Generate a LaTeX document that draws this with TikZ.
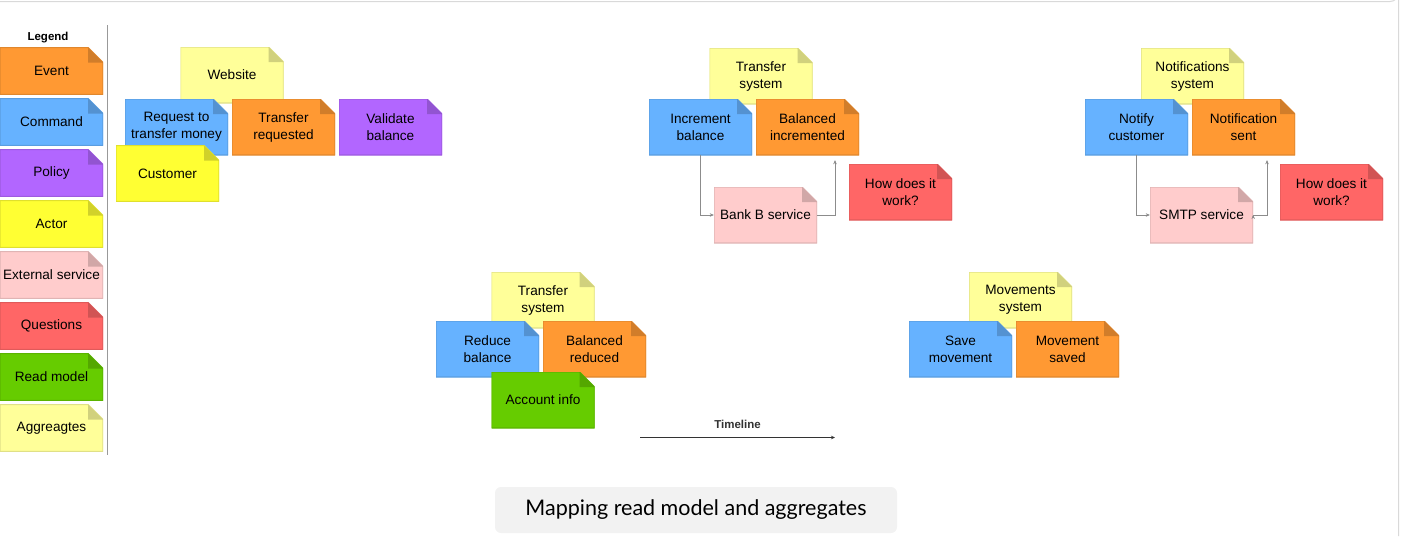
\documentclass[tikz,border=0pt]{standalone}
\usepackage{fontspec}
\setmainfont{Liberation Sans}
\newfontfamily\capfont{Lato}
\usetikzlibrary{positioning,arrows.meta}
\definecolor{evfill}{HTML}{FF9933}
\definecolor{cmdfill}{HTML}{66B2FF}
\definecolor{polfill}{HTML}{B266FF}
\definecolor{actfill}{HTML}{FFFF33}
\definecolor{extfill}{HTML}{FFCCCC}
\definecolor{qfill}{HTML}{FF6666}
\definecolor{rmfill}{HTML}{66CC00}
\definecolor{aggfill}{HTML}{FFFF99}
\newcommand{\foldsz}{15pt}
\tikzset{
    note/.style={
    rectangle,minimum width=103pt,minimum height=56pt,inner sep=0pt,
    align=center,font=\fontsize{13.6}{17}\selectfont,
    path picture={
      \fill[#1] (path picture bounding box.south west) -- (path picture bounding box.north west)
        -- ([xshift=-\foldsz]path picture bounding box.north east)
        -- ([yshift=-\foldsz]path picture bounding box.north east)
        -- (path picture bounding box.south east) -- cycle;
      \draw[#1!88!black,line width=1.2pt] (path picture bounding box.south west) -- (path picture bounding box.north west)
        -- ([xshift=-\foldsz]path picture bounding box.north east)
        -- ([yshift=-\foldsz]path picture bounding box.north east)
        -- (path picture bounding box.south east) -- cycle;
      \fill[#1!82!black] ([xshift=-\foldsz]path picture bounding box.north east)
        -- ([xshift=-\foldsz,yshift=-\foldsz]path picture bounding box.north east)
        -- ([yshift=-\foldsz]path picture bounding box.north east) -- cycle;
    }
    },
    event/.style={note=evfill},
    command/.style={note=cmdfill},
    policy/.style={note=polfill},
    actor/.style={note=actfill},
    external/.style={note=extfill},
    question/.style={note=qfill},
    readmodel/.style={note=rmfill},
    aggregate/.style={note=aggfill},
    legend/.style={minimum height=47pt},
    flow/.style={draw=gray!90,line width=0.6pt,-{Stealth[length=4pt,width=3.5pt,fill=black!80]}},
    caption/.style={
    rectangle,rounded corners=6pt,fill=black!5,minimum width=402pt,minimum height=46pt,
    font=\capfont\fontsize{21.5}{25}\selectfont
    },
}
\begin{document}
\begin{tikzpicture}[x=1pt, y=-1pt, node distance=51pt, on grid]
   \useasboundingbox (0,0) rectangle (1401,536);
   % frame
   \draw[black!15,line width=1pt] (0,1.5) -- (1390,1.5) arc[start angle=90,end angle=0,radius=8.5] -- (1398.5,536);

   % legend
   \node[font=\bfseries\fontsize{11.5}{13}\selectfont] (leg) at (48,38) {Legend};
   \node[event,legend] (Lev) at (51.5,71) {Event};
   \node[command,legend,below=of Lev] (Lcmd) {Command};
   \node[policy,legend,below=of Lcmd] (Lpol) {Policy};
   \node[actor,legend,below=of Lpol] (Lact) {Actor};
   \node[external,legend,below=of Lact] (Lext) {External service};
   \node[question,legend,below=of Lext] (Lq) {Questions};
   \node[readmodel,legend,below=of Lq] (Lrm) {Read model};
   \node[aggregate,legend,below=of Lrm] (Lagg) {Aggreagtes};
   \draw[black!40,line width=0.8pt] (107,25) -- (107,455);

   % website
   \node[aggregate] (Web) at (232,75) {Website};
   \node[command,below left=52pt and 55.5pt of Web] (Req) {Request to\\transfer money};
   \node[event,right=107pt of Req] (TrReq) {Transfer\\requested};
   \node[policy,right=107pt of TrReq] (Val) {Validate\\balance};
   \node[actor,below left=46.5pt and 9pt of Req] (Cust) {Customer};

   % transfer system (bank B)
   \node[aggregate] (TsB) at (761,76) {Transfer\\system};
   \node[command,below left=51pt and 60.5pt of TsB] (Inc) {Increment\\balance};
   \node[event,right=107pt of Inc] (BalInc) {Balanced\\incremented};
   \node[external] (BankB) at (765.5,215) {Bank B service};
   \node[question] (QB) at (900.5,192) {How does it\\work?};

   % notifications
   \node[aggregate] (Ns) at (1192.5,76) {Notifications\\system};
   \node[command,below left=51pt and 56pt of Ns] (Notify) {Notify\\customer};
   \node[event,right=107pt of Notify] (NSent) {Notification\\sent};
   \node[external] (Smtp) at (1201.5,215) {SMTP service};
   \node[question] (QN) at (1331.5,192) {How does it\\work?};

   % transfer system (reduce)
   \node[aggregate] (TsA) at (543,300) {Transfer\\system};
   \node[command,below left=49pt and 55.5pt of TsA] (Red) {Reduce\\balance};
   \node[event,right=107pt of Red] (BalRed) {Balanced\\reduced};
   \node[readmodel,below=100pt of TsA] (Acc) {Account info};

   % movements
   \node[aggregate] (Ms) at (1020.5,300) {Movements\\system};
   \node[command,below left=49pt and 60pt of Ms] (Save) {Save\\movement};
   \node[event,right=107pt of Save] (MSaved) {Movement\\saved};

   \path[flow]
    (Inc.south) edge[to path={|- (\tikztotarget)}] (BankB.west)
    (BankB.east) edge[to path={-| (\tikztotarget)}] ([xshift=27.5pt,yshift=-5pt]BalInc.south)
    (Notify.south) edge[to path={|- (\tikztotarget)}] (Smtp.west)
    (Smtp.east) edge[to path={-| (\tikztotarget)}] ([xshift=23.5pt,yshift=-5pt]NSent.south);

   % timeline
   \coordinate (T0) at (640,437.5);
   \coordinate (T1) at (835,437.5);
   \draw[black!80,line width=0.7pt,-{Stealth[length=4pt,width=3.5pt]}] (T0) -- node[above=5pt,font=\bfseries\fontsize{11.5}{13}\selectfont] (tl) {Timeline} (T1);

   \node[caption] (cap) at (696,510) {Mapping read model and aggregates};
\end{tikzpicture}
\end{document}
